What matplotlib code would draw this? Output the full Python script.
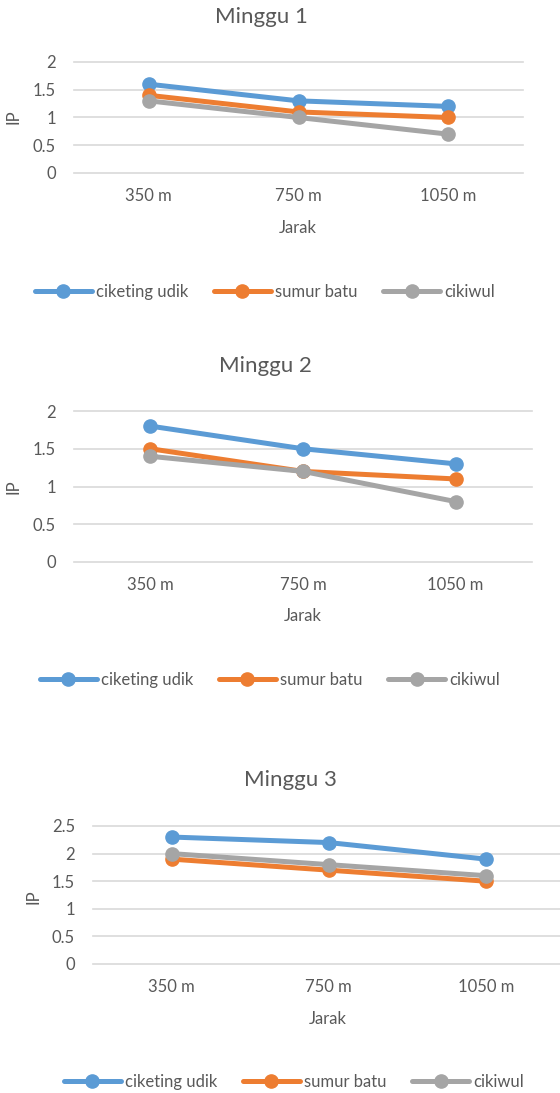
import matplotlib.pyplot as plt

# data
categories = ['350 m', '750 m', '1050 m']
series_names = ['ciketing udik', 'sumur batu', 'cikiwul']
colors = ['#5B9BD5', '#ED7D31', '#A5A5A5']

minggu1_ciketing = [1.6, 1.3, 1.2]
minggu1_sumur = [1.4, 1.1, 1.0]
minggu1_cikiwul = [1.3, 1.0, 0.7]

minggu2_ciketing = [1.8, 1.5, 1.3]
minggu2_sumur = [1.5, 1.2, 1.1]
minggu2_cikiwul = [1.4, 1.2, 0.8]

minggu3_ciketing = [2.3, 2.2, 1.9]
minggu3_sumur = [1.9, 1.7, 1.5]
minggu3_cikiwul = [2.0, 1.8, 1.6]

yticks_12 = [0, 0.5, 1, 1.5, 2]
yticks_3 = [0, 0.5, 1, 1.5, 2, 2.5]

W, H = 560, 1093
plt.rcParams['font.family'] = ['Lato', 'DejaVu Sans']
text_color = '#595959'

fig = plt.figure(figsize=(W / 100, H / 100), dpi=100)


def px_axes(left, top, right, bottom):
    return fig.add_axes([left / W, 1 - bottom / H, (right - left) / W, (bottom - top) / H])


def fig_text(x, y, s, **kw):
    fig.text(x / W, 1 - y / H, s, ha='center', va='center', color=text_color, **kw)


# (title, series, yticks, axes box, title pos, Jarak pos, IP pos, legend pos)
charts = [
    ('Minggu 1', [minggu1_ciketing, minggu1_sumur, minggu1_cikiwul], yticks_12,
     (74, 62, 523, 173), (261, 17), (298, 228), (14, 117), (265, 292)),
    ('Minggu 2', [minggu2_ciketing, minggu2_sumur, minggu2_cikiwul], yticks_12,
     (74, 411, 532, 562), (265, 366), (303, 616), (14, 487), (270, 680)),
    ('Minggu 3', [minggu3_ciketing, minggu3_sumur, minggu3_cikiwul], yticks_3,
     (93, 826, 564.5, 964), (290, 780), (328, 1019), (33, 897), (294, 1082)),
]

for title, series, yticks, box, tpos, xlpos, ylpos, lpos in charts:
    ax = px_axes(*box)
    x = range(len(categories))
    for name, vals, c in zip(series_names, series, colors):
        ax.plot(x, vals, color=c, lw=3.6, marker='o', markersize=9.5,
                label=name, clip_on=False, solid_capstyle='round')
    ax.set_xlim(-0.5, len(categories) - 0.5)
    ax.set_ylim(yticks[0], yticks[-1])
    ax.set_yticks(yticks)
    ax.set_yticklabels([f'{t:g}' for t in yticks])
    ax.set_xticks(list(x))
    ax.set_xticklabels(categories)
    ax.grid(axis='y', color='#D9D9D9', lw=1.2)
    for gl in ax.get_ygridlines():
        gl.set_clip_on(False)
    ax.set_axisbelow(True)
    for s in ax.spines.values():
        s.set_visible(False)
    ax.tick_params(length=0, labelsize=12, colors=text_color)
    ax.tick_params(axis='y', pad=13)
    ax.tick_params(axis='x', pad=11)

    fig_text(*tpos, title, fontsize=16)
    fig_text(*xlpos, 'Jarak', fontsize=12)
    fig_text(*ylpos, 'IP', fontsize=12, rotation=90)

    leg = ax.legend(loc='center', bbox_to_anchor=(lpos[0] / W, 1 - lpos[1] / H),
                    bbox_transform=fig.transFigure, ncol=3, frameon=False,
                    fontsize=12, handlelength=3.4, handletextpad=0.25,
                    columnspacing=1.55, labelcolor=text_color)

fig.savefig('out.png', dpi=100)
